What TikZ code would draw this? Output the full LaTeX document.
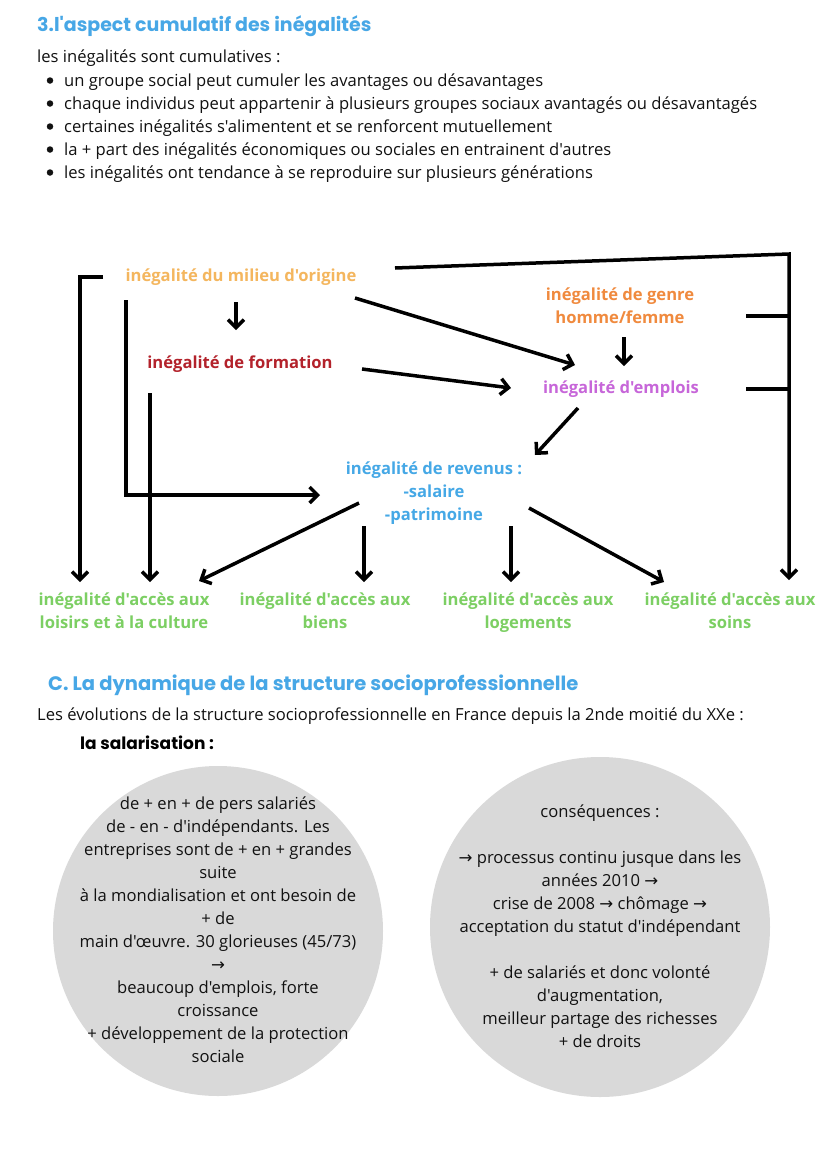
\documentclass[tikz,border=0pt]{standalone}
\usepackage{fontspec}
\setmainfont{Open Sans}[Ligatures=TeXOff]
\newfontfamily\headfont{Poppins}[Ligatures=TeXOff]
\newfontfamily\symfont{DejaVu Sans}
\newcommand\myra{{\symfont →}}
\usetikzlibrary{arrows.meta}
\definecolor{headblue}{HTML}{47A7E6}
\definecolor{milieuc}{HTML}{F4B65E}
\definecolor{formc}{HTML}{B3222B}
\definecolor{genrec}{HTML}{F08A3E}
\definecolor{emploic}{HTML}{C766D9}
\definecolor{revc}{HTML}{45A8E6}
\definecolor{accc}{HTML}{7CCF63}
\definecolor{circc}{HTML}{D9D9D9}
\definecolor{txt}{HTML}{111111}
\begin{document}
\begin{tikzpicture}[x=1pt,y=-1pt,
  body/.style={font=\fontsize{16.6}{23}\selectfont, text=txt, inner sep=0pt},
  head/.style={font=\headfont\bfseries\fontsize{19}{22}\selectfont, text=headblue, inner sep=0pt, anchor=base west},
  lab/.style={font=\bfseries\fontsize{16.6}{23}\selectfont, inner sep=0pt, anchor=base, align=center},
  circtxt/.style={font=\fontsize{16.6}{23}\selectfont, text=txt, inner sep=0pt, align=center},
  wire/.style={line width=3.5pt, line join=miter, draw=black},
  conn/.style={wire, -{Straight Barb[length=8pt,width=16pt]}},
  disc/.style={circle, fill=circc, draw=none},
  dot/.style={circle, fill=txt, draw=none, inner sep=0pt, minimum size=6.5pt}
]
\path[fill=white] (0,0) rectangle (828,1171);
\useasboundingbox (0,0) rectangle (828,1171);

% ---- section 3
\node[head] (t1) at (37,31) {3.l'aspect cumulatif des inégalités};
\node[body, anchor=base west] (intro) at (37,62) {les inégalités sont cumulatives :};
\foreach \y/\t [count=\i] in {86/{un groupe social peut cumuler les avantages ou désavantages},
  109/{chaque individus peut appartenir à plusieurs groupes sociaux avantagés ou désavantagés},
  132/{certaines inégalités s'alimentent et se renforcent mutuellement},
  155/{la + part des inégalités économiques ou sociales en entrainent d'autres},
  178/{les inégalités ont tendance à se reproduire sur plusieurs générations}}{
  \node[dot] (b\i) at (50,\y-5.5) {};
  \node[body, anchor=base west] (l\i) at (64,\y) {\t};
}

% ---- diagram nodes
\node[lab, text=milieuc] (milieu) at (241,281) {inégalité du milieu d'origine};
\node[lab, text=formc] (formation) at (240,368) {inégalité de formation};
\node[lab, text=genrec] (genre) at (620,323) {inégalité de genre\\homme/femme};
\node[lab, text=emploic] (emploi) at (621,393) {inégalité d'emplois};
\node[lab, text=revc] (revenu) at (434,520) {inégalité de revenus :\\-salaire\\-patrimoine};
\node[lab, text=accc] (loisirs) at (124,628) {inégalité d'accès aux\\loisirs et à la culture};
\node[lab, text=accc] (biens) at (325,628) {inégalité d'accès aux\\biens};
\node[lab, text=accc] (logements) at (528,628) {inégalité d'accès aux\\logements};
\node[lab, text=accc] (soins) at (730,628) {inégalité d'accès aux\\soins};

% ---- connector points
\coordinate (brA) at (103,277); \coordinate (brB) at (80,277); \coordinate (brC) at (80,582);
\coordinate (vA) at (126,300); \coordinate (vB) at (126,495); \coordinate (vC) at (320,495);
\coordinate (fA) at (150,393); \coordinate (fB) at (150,582);
\coordinate (mA) at (236,302); \coordinate (mB) at (236,330);
\coordinate (meA) at (355,298); \coordinate (meB) at (575,365);
\coordinate (feA) at (362,369); \coordinate (feB) at (511,388);
\coordinate (tA) at (395,268); \coordinate (tB) at (789,254); \coordinate (tC) at (789,580);
\coordinate (gS) at (746,316); \coordinate (gT) at (789,316);
\coordinate (eS) at (746,389); \coordinate (eT) at (789,389);
\coordinate (geA) at (624,337); \coordinate (geB) at (624,366);
\coordinate (erA) at (578,408); \coordinate (erB) at (535,455);
\coordinate (r1A) at (359,503); \coordinate (r1B) at (199,581);
\coordinate (r2A) at (364,526); \coordinate (r2B) at (364,582);
\coordinate (r3A) at (511,526); \coordinate (r3B) at (511,582);
\coordinate (r4A) at (529,508); \coordinate (r4B) at (664,582);

\draw[conn] (brA) -- (brB) -- (brC);
\draw[conn] (vA) -- (vB) -- (vC);
\draw[conn] (fA) -- (fB);
\draw[conn] (mA) -- (mB);
\draw[conn] (meA) -- (meB);
\draw[conn] (feA) -- (feB);
\draw[conn] (tA) -- (tB) -- (tC);
\draw[wire] (gS) -- (gT);
\draw[wire] (eS) -- (eT);
\draw[conn] (geA) -- (geB);
\draw[conn] (erA) -- (erB);
\draw[conn] (r1A) -- (r1B);
\draw[conn] (r2A) -- (r2B);
\draw[conn] (r3A) -- (r3B);
\draw[conn] (r4A) -- (r4B);

% ---- section C
\node[head, font=\headfont\bfseries\fontsize{19.5}{22}\selectfont] (t2) at (48,690) {C. La dynamique de la structure socioprofessionnelle};
\node[body, anchor=base west] (evol) at (37,720) {Les évolutions de la structure socioprofessionnelle en France depuis la 2nde moitié du XXe :};
\node[head, text=black, font=\headfont\bfseries\fontsize{17}{20}\selectfont] (sal) at (80,749) {la salarisation :};

\node[disc, minimum size=330pt] (c1) at (218,931) {};
\node[disc, minimum size=340pt] (c2) at (600,927) {};

\node[circtxt] (c1t) at (218,930) {de + en + de pers salariés\\de - en - d'indépendants. Les\\entreprises sont de + en + grandes\\suite\\à la mondialisation et ont besoin de\\+ de\\main d'œuvre. 30 glorieuses (45/73)\\\myra\\beaucoup d'emplois, forte\\croissance\\+ développement de la protection\\sociale};
\node[circtxt] (c2t) at (600,926) {conséquences :\\[23pt]\myra{} processus continu jusque dans les\\années 2010 \myra\\crise de 2008 \myra{} chômage \myra\\acceptation du statut d'indépendant\\[23pt]+ de salariés et donc volonté\\d'augmentation,\\meilleur partage des richesses\\+ de droits};
\end{tikzpicture}
\end{document}
